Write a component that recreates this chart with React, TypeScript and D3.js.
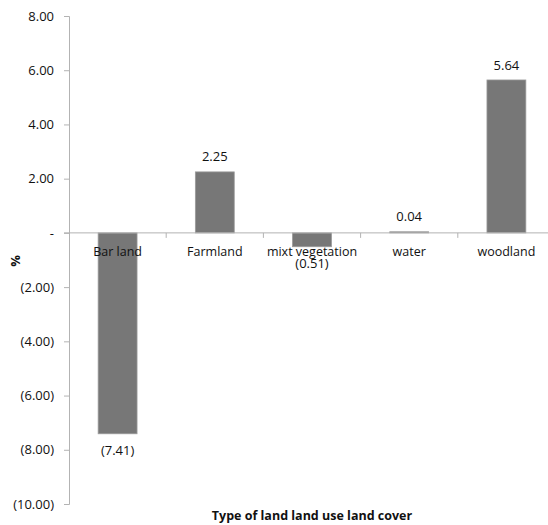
import * as React from "react";
import * as d3 from "d3";

const categories = ["Bar land", "Farmland", "mixt vegetation", "water", "woodland"];
const values = [-7.41, 2.25, -0.51, 0.04, 5.64];
const yTicks = [8, 6, 4, 2, 0, -2, -4, -6, -8, -10];
const yLabel = "%";
const xLabel = "Type of land land use land cover";

const width = 548;
const height = 525;
const font = "'Open Sans', 'Noto Sans', sans-serif";
const axisColor = "#b3b3b3";

function accounting(v: number) {
	if (v === 0) return "-";
	const s = Math.abs(v).toFixed(2);
	return v < 0 ? `(${s})` : s;
}

export default function App() {
	const xScale = React.useMemo(
		() =>
			d3
				.scaleBand()
				.domain(categories)
				.range([69, 555])
				.paddingInner(0.6)
				.paddingOuter(0.3),
		[]
	);
	const yScale = React.useMemo(() => d3.scaleLinear([-10, 8], [504, 16]), []);

	const gyRef = React.useRef<SVGGElement>(null);
	React.useEffect(() => {
		const g = d3.select(gyRef.current!);
		g.selectChildren().remove();
		g.call(
			d3
				.axisLeft(yScale)
				.tickValues(yTicks)
				.tickSize(5)
				.tickPadding(10)
				.tickFormat((d) => accounting(+d))
		)
			.attr("font-size", null)
			.attr("font-family", null);
		g.select(".domain").attr("stroke", axisColor);
		g.selectAll(".tick line").attr("stroke", axisColor);
		g.selectAll(".tick text").attr("fill", "#111");
	}, [yScale]);

	const y0 = yScale(0);
	const step = xScale.step();
	const x0 = xScale.range()[0];

	return (
		<svg
			width={width}
			height={height}
			style={{ position: "absolute", left: 0, top: 0, background: "white" }}
			fontFamily={font}
			fontSize={13}
		>
			<g ref={gyRef} transform="translate(69 0)" />
			{categories.map((c, i) => {
				const v = values[i];
				const x = xScale(c)!;
				const y = Math.min(yScale(v), y0);
				const h = Math.abs(yScale(v) - y0);
				return (
					<rect
						key={c}
						x={x}
						y={y}
						width={xScale.bandwidth()}
						height={Math.max(h, 1)}
						fill="#777777"
						stroke="#9a9a9a"
						strokeWidth={0.8}
					/>
				);
			})}
			<line x1={64} x2={width} y1={y0} y2={y0} stroke={axisColor} />
			{categories.map((c, i) => (
				<line
					key={c}
					x1={x0 + step * (i + 1)}
					x2={x0 + step * (i + 1)}
					y1={y0}
					y2={y0 + 5}
					stroke={axisColor}
				/>
			))}
			{categories.map((c) => (
				<text
					key={c}
					x={xScale(c)! + xScale.bandwidth() / 2}
					y={y0 + 19}
					dy="0.35em"
					textAnchor="middle"
					fill="#111"
					fontSize={12.5}
				>
					{c}
				</text>
			))}
			{categories.map((c, i) => {
				const v = values[i];
				const yy = v >= 0 ? yScale(v) - 15 : yScale(v) + 17;
				return (
					<text
						key={c}
						x={xScale(c)! + xScale.bandwidth() / 2}
						y={yy}
						dy="0.35em"
						textAnchor="middle"
						fill="#111"
					>
						{accounting(v)}
					</text>
				);
			})}
			<text
				transform={`translate(15 ${y0 + 28}) rotate(-90)`}
				textAnchor="middle"
				dy="0.35em"
				fontWeight="bold"
				fill="#111"
			>
				{yLabel}
			</text>
			<text
				x={(69 + 555) / 2}
				y={516}
				dy="0.35em"
				textAnchor="middle"
				fontWeight="bold"
				fill="#111"
				fontSize={12.5}
			>
				{xLabel}
			</text>
		</svg>
	);
}
